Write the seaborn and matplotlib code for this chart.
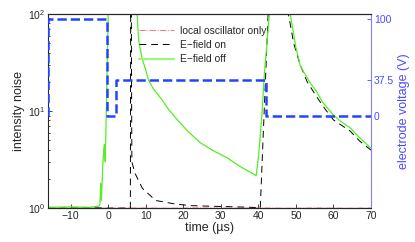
import matplotlib
matplotlib.use("Agg")
import matplotlib.pyplot as plt
import seaborn as sns
import pandas as pd
import numpy as np

# E-field off (green)
off_t = [-16, -10, -5, -2.5, -2.2, -2.0, -1.8, -1.5, -1.2, -1.0, -0.8, -0.5, -0.2, 0.1, 4,
         7.7, 8.1, 9, 10, 10.7, 12, 14.4, 16, 18, 21, 24.6, 28, 31.7, 35.2, 38.7, 39.4,
         40.0, 40.5, 41.0, 41.6, 42.3, 43, 45, 48.5, 50, 51.2, 53.8, 55.6, 57, 60, 62,
         64.5, 67, 70]
off_v = [1.02, 1.03, 1.02, 1.05, 1.1, 1.8, 1.2, 2.5, 4.0, 4.5, 3.0, 10, 40, 150, 200,
         100, 54, 35, 26.5, 21, 17, 13, 10.5, 8.5, 6.3, 4.7, 3.9, 3.3, 2.67, 2.25, 2.15,
         3.3, 5.5, 10, 24.6, 50, 110, 200, 100, 45, 29, 19.5, 15.7, 12.5, 9.1, 7.8,
         6.7, 5.3, 4.15]

# E-field on (black)
on_t = [-16, -10, -5, 0, 5.9, 6.0, 6.15, 6.3, 7.1, 9.1, 12.6, 18, 22, 26, 30, 34, 38,
        40.5, 41.55, 42.6, 45, 48, 49.4, 51, 53, 55.6, 58, 60, 62, 64.5, 67, 70]
on_v = [1.0, 1.0, 1.01, 1.0, 1.0, 200, 100, 3.0, 2.3, 1.6, 1.2, 1.1, 1.06, 1.05, 1.04,
        1.03, 1.02, 1.0, 10, 100, 200, 100, 50, 31, 20, 13.9, 10.2, 8.1, 7.2, 6.2,
        4.9, 3.96]

# local oscillator only (red)
lo_t = [-16, -8, 0, 8, 16, 24, 32, 40, 48, 56, 64, 70]
lo_v = [0.995, 1.0, 0.995, 1.0, 0.995, 1.0, 0.995, 1.0, 0.995, 1.0, 0.995, 1.0]

# electrode voltage (blue, right axis)
volt_t = [-16, -16, -0.3, -0.3, 2.2, 2.2, 41.9, 41.9, 70]
volt_v = [0, 100, 100, 0, 0, 37.5, 37.5, 0, 0]

sns.set_style("ticks")
plt.rcParams['font.family'] = ['Liberation Sans', 'DejaVu Sans']
plt.rcParams['font.size'] = 7.5
plt.rcParams['xtick.direction'] = 'in'
plt.rcParams['ytick.direction'] = 'in'

fig = plt.figure(figsize=(4.15, 2.42), dpi=100)
ax = fig.add_axes([0.116, 0.14, 0.778, 0.802])

sns.lineplot(x=lo_t, y=lo_v, ax=ax, color='#ff4040', lw=0.7, linestyle='-.',
             label='local oscillator only', sort=False, estimator=None)
sns.lineplot(x=on_t, y=on_v, ax=ax, color='black', lw=0.7, linestyle=(0, (7, 5)),
             label='E\u2212field on', sort=False, estimator=None)
sns.lineplot(x=off_t, y=off_v, ax=ax, color='#55ee22', lw=0.9,
             label='E\u2212field off', sort=False, estimator=None)

ax.set_yscale('log')
ax.set_ylim(1, 100)
ax.set_xlim(-16, 70)
ax.set_xticks(range(-10, 71, 10))
ax.set_xlabel('time (µs)', fontsize=9, labelpad=1)
ax.set_ylabel('intensity noise', fontsize=9, labelpad=2)
ax.tick_params(which='both', length=3, width=0.6)
ax.tick_params(which='minor', length=1.5)
ax.tick_params(axis='both', labelsize=7.5, pad=2)
for s in ax.spines.values():
    s.set_linewidth(0.8)

leg = ax.legend(loc='upper left', bbox_to_anchor=(0.27, 0.962), frameon=False,
                handlelength=3.4, handletextpad=0.5, labelspacing=0.42, fontsize=7.4,
                borderaxespad=0)
leg.get_lines()[2].set_linewidth(1.6)
leg.get_lines()[2].set_color('#a6f07e')
leg.get_lines()[0].set_color('#ff7070')

ax2 = ax.twinx()
sns.lineplot(x=volt_t, y=volt_v, ax=ax2, color='#2244ff', lw=1.8, linestyle='--',
             sort=False, estimator=None)
ax2.set_ylim(-95, 105)
ax2.set_yticks([0, 37.5, 100])
ax2.set_yticklabels(['0', '37.5', '100'])
ax2.set_ylabel('electrode voltage (V)', color='#4a4aff', fontsize=9, labelpad=3)
ax2.tick_params(axis='y', colors='#4a4aff', length=3, width=0.6, labelsize=7.5, pad=2)
ax2.spines['right'].set_color('#8080ff')
ax2.spines['right'].set_linewidth(0.8)
ax.spines['right'].set_visible(False)
ax2.spines['left'].set_visible(False)

fig.savefig('out.png', dpi=100)
